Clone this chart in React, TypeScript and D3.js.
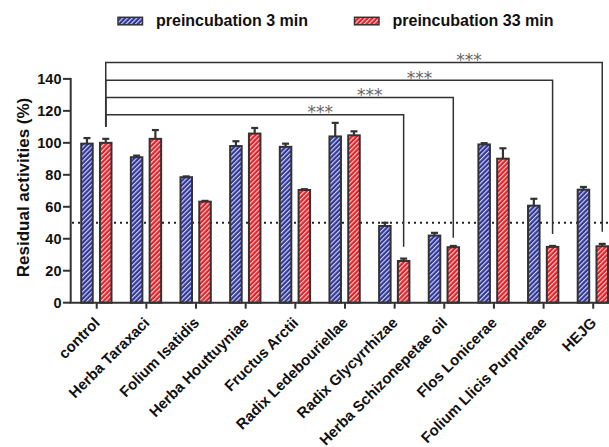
import React from 'react';
import * as d3 from 'd3';

const categories = [
  'control',
  'Herba Taraxaci',
  'Folium Isatidis',
  'Herba Houttuyniae',
  'Fructus Arctii',
  'Radix Ledebouriellae',
  'Radix Glycyrrhizae',
  'Herba Schizonepetae oil',
  'Flos Lonicerae',
  'Folium Llicis Purpureae',
  'HEJG',
];
const series = ['preincubation 3 min', 'preincubation 33 min'];
const values3 = [99.5, 91, 78.5, 98, 97.5, 104, 48, 42, 99, 60.7, 70.7];
const errors3 = [3.5, 1, 0.5, 3, 2, 8.5, 2, 1.7, 0.8, 4.3, 1.7];
const values33 = [100, 102.5, 63.2, 105.8, 70.5, 104.7, 26.1, 34.7, 90.1, 34.9, 35.3];
const errors33 = [2.5, 5.5, 0.5, 3.5, 0.5, 2.5, 1.5, 0.8, 6.5, 0.6, 1.5];
const yTicks = [0, 20, 40, 60, 80, 100, 120, 140];
const threshold = 50;
const yLabel = 'Residual activities (%)';
const comparisons = [
  { target: 'Radix Glycyrrhizae', level: 117.5, from: 110, to: 35, starAt: 4.5, label: '***' },
  { target: 'Herba Schizonepetae oil', level: 128.3, from: 110, to: 40.7, starAt: 5.5, label: '***' },
  { target: 'Folium Llicis Purpureae', level: 139.2, from: 110, to: 43, starAt: 6.5, label: '***' },
  { target: 'HEJG', level: 150.2, from: 110, to: 44.4, starAt: 7.5, label: '***' },
];

const colors = ['#2f379e', '#e81f26'];
const dark = '#333';
const font = '"Liberation Sans", Arial, sans-serif';

export default function App() {
  const W = 609;
  const H = 447;
  const step = 49.65;
  const x0 = 71.9;
  const x = d3.scaleBand<string>().domain(categories).range([x0, x0 + step * categories.length]).padding(0);
  const xs = d3.scaleBand<string>().domain(series).range([8.3, 40.6]).paddingInner(0.28).paddingOuter(0);
  const y = d3.scaleLinear().domain([0, 140]).range([302.7, 78.9]);
  const bw = xs.bandwidth();
  const center = (c: string) => (x(c) as number) + x.bandwidth() / 2;
  const seriesVals = [values3, values33];
  const seriesErr = [errors3, errors33];
  const axisY = y(0);
  const catPos = (idx: number) => x0 + step * idx + x.bandwidth() / 2;
  const ctrlX = (x('control') as number) + (xs(series[1]) as number) + bw / 2;

  return (
    <svg width={W} height={H} style={{ position: 'absolute', left: 0, top: 0, background: '#fff' }}>
      <defs>
        {colors.map((c, i) => (
          <pattern key={i} id={`hatch${i}`} patternUnits="userSpaceOnUse" width={3.3} height={3.3} patternTransform="rotate(45)">
            <rect width={3.3} height={3.3} fill={c} />
            <line x1={0.6} y1={0} x2={0.6} y2={3.3} stroke="#fff" strokeOpacity={0.9} strokeWidth={1} />
          </pattern>
        ))}
      </defs>

      {/* legend */}
      {series.map((s, i) => {
        const lx = i === 0 ? 118 : 354.5;
        return (
          <g key={s}>
            <rect x={lx} y={17.3} width={24.5} height={7.5} fill={`url(#hatch${i})`} stroke={dark} strokeWidth={1.5} />
            <text x={lx + 38} y={26} fontFamily={font} fontWeight="bold" fontSize={16} fill="#111">{s}</text>
          </g>
        );
      })}

      {/* threshold line */}
      <line x1={72} x2={W} y1={y(threshold)} y2={y(threshold)} stroke="#222" strokeWidth={2} strokeDasharray="2,4" />

      {/* bars */}
      {categories.map((c, ci) => (
        <g key={c}>
          {series.map((s, si) => {
            const v = seriesVals[si][ci];
            const e = seriesErr[si][ci];
            const bx = (x(c) as number) + (xs(s) as number);
            const cx = bx + bw / 2;
            return (
              <g key={s}>
                <line x1={cx} x2={cx} y1={y(v)} y2={y(v + e)} stroke={dark} strokeWidth={2.2} />
                <line x1={cx - 3.5} x2={cx + 3.5} y1={y(v + e)} y2={y(v + e)} stroke={dark} strokeWidth={2.2} />
                <rect x={bx + 1} y={y(v)} width={bw - 2} height={axisY - y(v)} fill={`url(#hatch${si})`} stroke={dark} strokeWidth={2} />
              </g>
            );
          })}
        </g>
      ))}

      {/* significance brackets */}
      {comparisons.map((cmp) => {
        const tx = (x(cmp.target) as number) + (xs(series[1]) as number) + bw / 2;
        const ly = y(cmp.level);
        return (
          <g key={cmp.target}>
            <path
              d={`M${ctrlX},${y(cmp.from)}V${ly}H${tx}V${y(cmp.to)}`}
              fill="none"
              stroke={dark}
              strokeWidth={1.5}
            />
            <text x={catPos(cmp.starAt)} y={ly + 3.5} textAnchor="middle" fontFamily='"DejaVu Sans", sans-serif' fontSize={17} fill="#666">
              {cmp.label}
            </text>
          </g>
        );
      })}

      {/* y axis */}
      <line x1={70.7} x2={70.7} y1={y(140) - 1} y2={axisY} stroke={dark} strokeWidth={2} />
      {yTicks.map((t) => (
        <g key={t}>
          <line x1={63} x2={70.7} y1={y(t)} y2={y(t)} stroke={dark} strokeWidth={2} />
          <text x={61.5} y={y(t) + 5} textAnchor="end" fontFamily={font} fontWeight="bold" fontSize={14.5} fill="#111">
            {t}
          </text>
        </g>
      ))}
      <text
        transform={`translate(29,187.5) rotate(-90)`}
        textAnchor="middle"
        fontFamily={font}
        fontWeight="bold"
        fontSize={17}
        fill="#111"
      >
        {yLabel}
      </text>

      {/* x axis */}
      <line x1={69.7} x2={W} y1={axisY} y2={axisY} stroke={dark} strokeWidth={2} />
      {categories.map((c) => (
        <g key={c}>
          <line x1={center(c)} x2={center(c)} y1={axisY} y2={axisY + 6} stroke={dark} strokeWidth={2} />
          <text
            transform={`translate(${center(c) + 4},${axisY + 21}) rotate(-45)`}
            textAnchor="end"
            fontFamily={font}
            fontWeight="bold"
            fontSize={15}
            fill="#111"
          >
            {c}
          </text>
        </g>
      ))}
    </svg>
  );
}
